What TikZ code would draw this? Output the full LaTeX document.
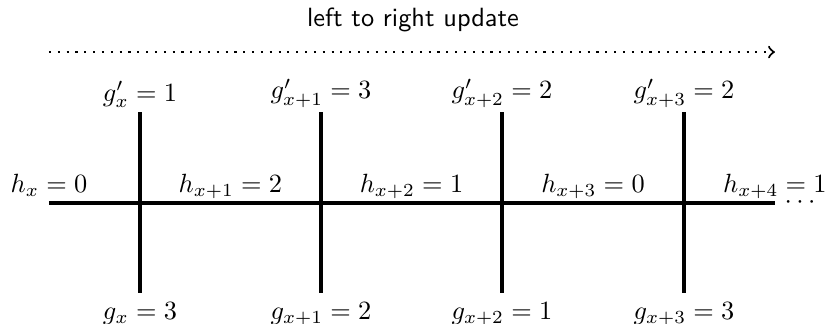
\documentclass[tikz,border=0pt]{standalone}
\usepackage{tikz}

\begin{document}
\begin{tikzpicture}[x=1cm,y=1cm]
  \tikzset{
    wire/.style={line width=1.3pt,black},
    sweep/.style={dash pattern=on 0.8pt off 2.55pt,->,line width=0.8pt},
    upval/.style={anchor=south,inner sep=1.5pt},
    downval/.style={anchor=north},
    chainval/.style={anchor=base},
    caption/.style={font=\sffamily},
  }
  \useasboundingbox (0,0) rectangle (11.027,4.307);

  % Update direction.
  \node[caption] (title) at (5.507,4.04) {left to right update};
  \coordinate (sweepL) at (0.653,3.613);
  \coordinate (sweepR) at (10.333,3.613);
  \draw[sweep] (sweepL) -- (sweepR);

  % Chain, y=1.6, from 0.653 to 10.333.
  \coordinate (chainL) at (0.653,1.6);
  \coordinate (chainR) at (10.333,1.6);
  \draw[wire] (chainL) -- (chainR);
  \node[anchor=west,inner sep=3.5pt] (more) at (chainR) {$\cdots$};

  % Cuts with g' above and g below.
  \foreach \i/\xx/\sub/\up/\dn in {0/1.867/x/1/3,1/4.28/x+1/3/2,2/6.693/x+2/2/1,3/9.12/x+3/2/3} {
    \coordinate (top\i) at (\xx,2.813);
    \coordinate (bot\i) at (\xx,0.4);
    \draw[wire] (top\i) -- (bot\i);
    \node[upval] (gp\i) at (top\i) {$g'_{\sub} = \up$};
    \node[downval] (g\i) at (bot\i) {$g_{\sub} = \dn$};
  }

  % h values on the chain.
  \foreach \i/\xx/\sub/\val in {0/0.653/x/0,1/3.073/x+1/2,2/5.487/x+2/1,3/7.907/x+3/0,4/10.333/x+4/1} {
    \node[chainval] (h\i) at (\xx,1.737) {$h_{\sub} = \val$};
  }
\end{tikzpicture}
\end{document}
